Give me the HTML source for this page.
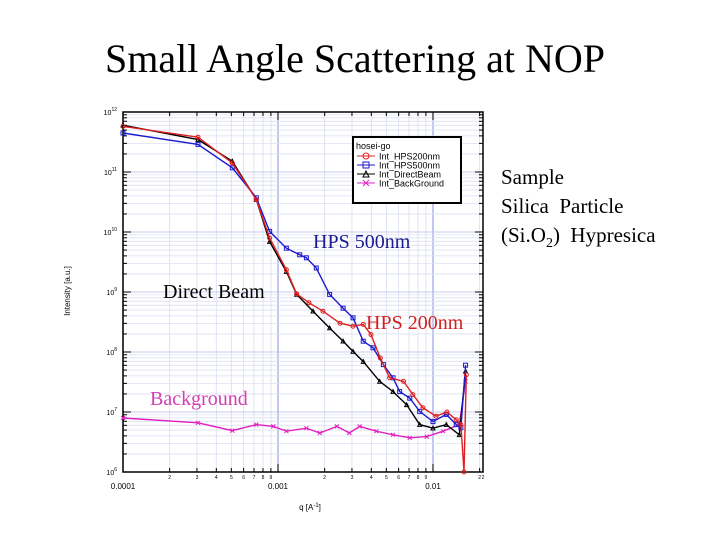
<!DOCTYPE html>
<html><head><meta charset="utf-8"><style>
html,body{margin:0;padding:0;background:#fff}
svg{display:block}
.ser{font-family:"Liberation Serif",serif}
.sans{font-family:"Liberation Sans",sans-serif}
</style></head><body>
<svg id="chart" width="720" height="540" viewBox="0 0 720 540">
<text class="ser" x="355" y="72" font-size="40" text-anchor="middle" fill="#000">Small Angle Scattering at NOP</text>
<text class="ser" x="501" y="184" font-size="21">Sample</text>
<text class="ser" x="501" y="213" font-size="21">Silica&#160; Particle</text>
<text class="ser" x="501" y="242" font-size="21">(Si.O<tspan font-size="14" dy="5">2</tspan><tspan dy="-5">)&#160; Hypresica</tspan></text>
<g id="grid"></g>
<g id="axes"></g>
<g id="series"></g>
<g>
<rect x="353" y="137" width="108" height="66" fill="#fff" stroke="#000" stroke-width="2"/>
<text class="sans" x="356" y="149" font-size="9">hosei-go</text>
<g><line x1="357" x2="375" y1="156" y2="156" stroke="#e02020"/><circle cx="366" cy="156" r="3" fill="none" stroke="#e02020"/><text class="sans" x="379" y="159.5" font-size="9">Int_HPS200nm</text></g>
<g><line x1="357" x2="375" y1="165" y2="165" stroke="#1a1ad0"/><rect x="363" y="162" width="6" height="6" fill="none" stroke="#1a1ad0"/><text class="sans" x="379" y="168.5" font-size="9">Int_HPS500nm</text></g>
<g><line x1="357" x2="375" y1="174" y2="174" stroke="#000"/><path d="M363 177 L366 171 L369 177 Z" fill="none" stroke="#000"/><text class="sans" x="379" y="177.5" font-size="9">Int_DirectBeam</text></g>
<g><line x1="357" x2="375" y1="183" y2="183" stroke="#e020c0"/><path d="M363 180 L369 186 M363 186 L369 180" stroke="#e020c0"/><text class="sans" x="379" y="186.5" font-size="9">Int_BackGround</text></g>
</g>
<text class="ser" x="313" y="248" font-size="20" fill="#1a1a90">HPS 500nm</text>
<text class="ser" x="163" y="298" font-size="20" fill="#000">Direct Beam</text>
<text class="ser" x="366" y="329" font-size="20" fill="#d02020">HPS 200nm</text>
<text class="ser" x="150" y="405" font-size="20" fill="#d040b0">Background</text>
<text class="sans" x="310" y="510" font-size="8" text-anchor="middle">q [A<tspan font-size="6" dy="-3">-1</tspan><tspan dy="3">]</tspan></text>
<text class="sans" transform="translate(70,291) rotate(-90)" font-size="8" text-anchor="middle">Intensity [a.u.]</text>
</svg>
<script>
const xTickLabels = ["0.0001","0.001","0.01"];
const yExponents = [6,7,8,9,10,11,12];
const qHps200 = [-4,-3.516,-3.295,-3.14,-3.054,-2.946,-2.88,-2.80,-2.71,-2.60,-2.516,-2.45,-2.40,-2.34,-2.28,-2.19,-2.13,-2.065,-1.98,-1.91,-1.85,-1.82,-1.80,-1.785];
const iHps200 = [11.76,11.58,11.15,10.54,9.9,9.37,8.97,8.82,8.68,8.48,8.43,8.46,8.29,7.9,7.57,7.51,7.29,7.07,6.93,7.0,6.87,6.79,6.0,7.62];
const qHps500 = [-4,-3.516,-3.295,-3.14,-3.054,-2.946,-2.86,-2.817,-2.753,-2.667,-2.58,-2.516,-2.45,-2.387,-2.32,-2.258,-2.215,-2.15,-2.086,-2.0,-1.914,-1.85,-1.82,-1.79];
const iHps500 = [11.65,11.46,11.07,10.57,10.01,9.73,9.62,9.57,9.4,8.96,8.73,8.57,8.18,8.07,7.79,7.57,7.34,7.23,7.01,6.84,6.96,6.79,6.74,7.78];
const qDirect = [-4,-3.516,-3.295,-3.14,-3.054,-2.946,-2.88,-2.774,-2.667,-2.58,-2.516,-2.45,-2.344,-2.258,-2.17,-2.086,-2.0,-1.914,-1.83,-1.79];
const iDirect = [11.78,11.54,11.18,10.54,9.84,9.34,8.96,8.68,8.4,8.18,8.01,7.84,7.51,7.34,7.12,6.79,6.73,6.79,6.62,7.68];
const qBack = [-4,-3.516,-3.295,-3.14,-3.03,-2.946,-2.817,-2.73,-2.62,-2.54,-2.473,-2.366,-2.258,-2.15,-2.04,-1.935,-1.83,-1.79];
const iBack = [6.9,6.82,6.69,6.79,6.76,6.68,6.73,6.65,6.76,6.65,6.76,6.68,6.62,6.57,6.59,6.68,6.79,7.51];

const NS="http://www.w3.org/2000/svg";
const L=123,R=483,T=112,B=472;
const xMin=-4,xDec=155,yMax=12,yDec=60;
const X=v=>L+(v-xMin)*xDec;
const Y=v=>T+(yMax-v)*yDec;
function mk(tag,attrs,parent){const e=document.createElementNS(NS,tag);for(const k in attrs)e.setAttribute(k,attrs[k]);parent.appendChild(e);return e;}
const grid=document.getElementById('grid'),axes=document.getElementById('axes'),ser=document.getElementById('series');
mk('rect',{x:L,y:T,width:R-L,height:B-T,fill:'#fff'},grid);
for(let d=-4;d<=-2;d++){for(let m=1;m<=9;m++){const v=d+Math.log10(m);const x=X(v);if(x>R+0.5)continue;
 const g=mk('line',{x1:x,x2:x,y1:T,y2:B,stroke:m===1?'#9aa0e8':'#d8dcf0','stroke-width':m===1?1.2:0.8},grid);
 
 
 mk('line',{x1:x,x2:x,y1:B,y2:B-(m===1?8:4),stroke:'#000'},axes);
 mk('line',{x1:x,x2:x,y1:T,y2:T+(m===1?8:4),stroke:'#000'},axes);
 if(m>1){const t=mk('text',{x:x,y:B+7,'font-size':5,'text-anchor':'middle','font-family':'Liberation Sans, sans-serif'},axes);t.textContent=m;}
}}
{const t=mk('text',{x:R,y:B+7,'font-size':5,'text-anchor':'middle','font-family':'Liberation Sans, sans-serif'},axes);t.textContent='2';}
xTickLabels.forEach((s,i)=>{const t=mk('text',{x:X(-4+i),y:B+17,'font-size':8,'text-anchor':'middle','font-family':'Liberation Sans, sans-serif'},axes);t.textContent=s;
 
 });
for(let e=6;e<12;e++){for(let m=1;m<=9;m++){const y=Y(e+Math.log10(m));
 mk('line',{x1:L,x2:R,y1:y,y2:y,stroke:m===1?'#b8bce8':'#dde0f2','stroke-width':0.8},grid);
 mk('line',{x1:L,x2:L+(m===1?8:4),y1:y,y2:y,stroke:'#000'},axes);
 mk('line',{x1:R,x2:R-(m===1?8:4),y1:y,y2:y,stroke:'#000'},axes);}}
yExponents.forEach(e=>{const t=mk('text',{x:L-6,y:Y(e)+3,'font-size':7,'text-anchor':'end','font-family':'Liberation Sans, sans-serif'},axes);
 t.innerHTML='10<tspan font-size="5" dy="-4">'+e+'</tspan>';
 
 });
mk('rect',{x:L,y:T,width:R-L,height:B-T,fill:'none',stroke:'#000','stroke-width':1.5},axes);
function series(qs,is,color,marker,name){
 const g=mk('g',{},ser);
 
 
 const pts=qs.map((q,i)=>X(q).toFixed(1)+','+Math.min(Y(is[i]),B).toFixed(1)).join(' ');
 mk('polyline',{points:pts,fill:'none',stroke:color,'stroke-width':1.4},g);
 qs.forEach((q,i)=>{const x=X(q),y=Math.min(Y(is[i]),B);
  if(marker==='o')mk('circle',{cx:x,cy:y,r:2,fill:'none',stroke:color},g);
  else if(marker==='s')mk('rect',{x:x-2,y:y-2,width:4,height:4,fill:'none',stroke:color},g);
  else if(marker==='t')mk('path',{d:`M${x-2} ${y+1.8} L${x} ${y-2} L${x+2} ${y+1.8} Z`,fill:'none',stroke:color},g);
  else mk('path',{d:`M${x-2} ${y-2} L${x+2} ${y+2} M${x-2} ${y+2} L${x+2} ${y-2}`,stroke:color},g);
 });
}
series(qBack,iBack,'#e020c0','x','series-background');
series(qDirect,iDirect,'#000','t','series-direct-beam');
series(qHps500,iHps500,'#1a1ad0','s','series-hps500');
series(qHps200,iHps200,'#e02020','o','series-hps200');
</script>
</body></html>
